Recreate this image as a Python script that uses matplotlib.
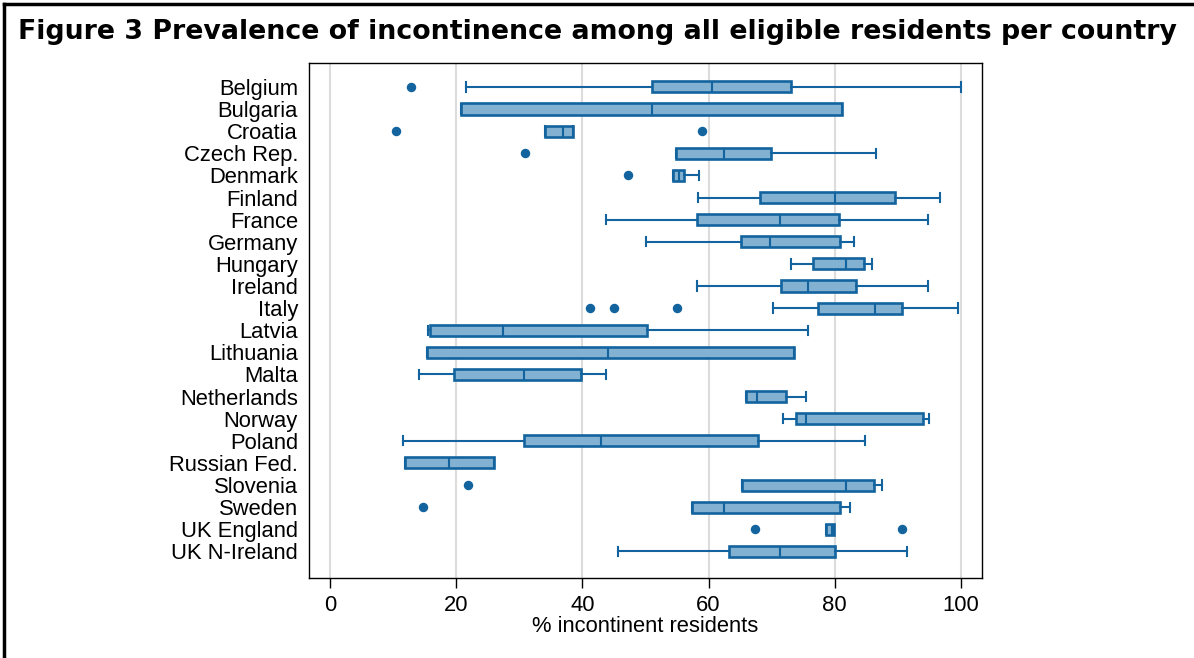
import matplotlib
import matplotlib.pyplot as plt
from matplotlib.lines import Line2D

matplotlib.use("Agg")

EDGE = "#13649e"
FILL = "#82b1d1"
GRID = "#dcdcdc"

countries = ["Belgium", "Bulgaria", "Croatia", "Czech Rep.", "Denmark", "Finland",
             "France", "Germany", "Hungary", "Ireland", "Italy", "Latvia", "Lithuania",
             "Malta", "Netherlands", "Norway", "Poland", "Russian Fed.", "Slovenia",
             "Sweden", "UK England", "UK N-Ireland"]

# lower whisker, q1, median, q3, upper whisker (% incontinent residents)
whisker_lo = [21.5, 20.7, 34.1, 54.9, 54.3, 58.3, 43.7, 50.0, 73.1, 58.2, 70.2,
              15.5, 15.3, 14.1, 65.9, 71.8, 11.5, 11.9, 65.3, 57.3, 78.6, 45.6]
q1 = [51.1, 20.7, 34.1, 54.9, 54.3, 68.2, 58.2, 65.2, 76.6, 71.5, 77.4,
      15.9, 15.3, 19.7, 65.9, 73.9, 30.8, 11.9, 65.3, 57.3, 78.6, 63.2]
median = [60.5, 51.1, 37.0, 62.5, 55.3, 80.1, 71.3, 69.8, 81.8, 75.7, 86.4,
          27.4, 44.1, 30.7, 67.6, 75.4, 42.9, 18.9, 81.8, 62.5, 79.6, 71.3]
q3 = [73.0, 81.2, 38.5, 69.9, 56.1, 89.6, 80.6, 80.9, 84.7, 83.3, 90.7,
      50.2, 73.6, 39.8, 72.3, 94.0, 67.9, 26.0, 86.2, 80.8, 79.9, 80.0]
whisker_hi = [100.0, 81.2, 38.5, 86.6, 58.5, 96.7, 94.7, 83.0, 85.9, 94.7, 99.5,
              75.8, 73.6, 43.7, 75.4, 95.0, 84.8, 26.0, 87.5, 82.4, 79.9, 91.4]
outliers = [[12.9], [], [10.4, 58.9], [30.9], [47.3], [], [], [], [], [], [41.2, 45.0, 55.0],
            [], [], [], [], [], [], [], [21.8], [14.8], [67.4, 90.7], []]

x_ticks = [0, 20, 40, 60, 80, 100]

stats = []
for i, name in enumerate(countries):
    stats.append({
        "label": name,
        "whislo": whisker_lo[i],
        "q1": q1[i],
        "med": median[i],
        "q3": q3[i],
        "whishi": whisker_hi[i],
        "fliers": outliers[i],
    })

fig = plt.figure(figsize=(11.94, 6.58), dpi=100)
fig.patch.set_facecolor("white")
ax = fig.add_axes([309 / 1194, 1 - 578 / 658, (982 - 309) / 1194, (578 - 63) / 658])

positions = list(range(len(countries)))
ax.bxp(
    stats,
    positions=positions,
    vert=False,
    widths=0.5,
    patch_artist=True,
    capwidths=0.42,
    boxprops=dict(facecolor=FILL, edgecolor=EDGE, linewidth=1.9),
    medianprops=dict(color=EDGE, linewidth=1.5),
    whiskerprops=dict(color=EDGE, linewidth=1.5),
    capprops=dict(color=EDGE, linewidth=1.5),
    flierprops=dict(marker="o", markerfacecolor=EDGE, markeredgecolor=EDGE, markersize=5.8),
    zorder=3,
)

ax.set_ylim(len(countries) - 1 + 1.2, -1.08)
ax.set_xlim(-3.33, 103.33)
ax.set_xticks(x_ticks)
ax.set_xticklabels([str(t) for t in x_ticks])
ax.xaxis.grid(True, color=GRID, linewidth=1.5, zorder=0)
ax.set_axisbelow(True)

ax.tick_params(axis="y", length=0, pad=8, labelsize=15.8)
ax.tick_params(axis="x", length=7, width=1, pad=5, labelsize=15.8, color="black")
for label in ax.get_yticklabels() + ax.get_xticklabels():
    label.set_fontfamily("Liberation Sans")

for spine in ax.spines.values():
    spine.set_linewidth(1.0)
    spine.set_color("black")

ax.set_xlabel("% incontinent residents", fontsize=15.8, family="Liberation Sans", labelpad=0)

fig.text(0.5, 1 - 32 / 658, "Figure 3 Prevalence of incontinence among all eligible residents per country",
         ha="center", va="center", fontsize=19.3, fontweight="bold", family="DejaVu Sans")

# frame lines at the left and top of the figure
fig.lines.append(Line2D([4 / 1194, 4 / 1194], [0, 1 - 4 / 658], transform=fig.transFigure,
                        color="black", linewidth=2.5))
fig.lines.append(Line2D([4 / 1194, 1], [1 - 4 / 658, 1 - 4 / 658], transform=fig.transFigure,
                        color="black", linewidth=2.5))

fig.savefig("out.png", dpi=100, facecolor="white")
